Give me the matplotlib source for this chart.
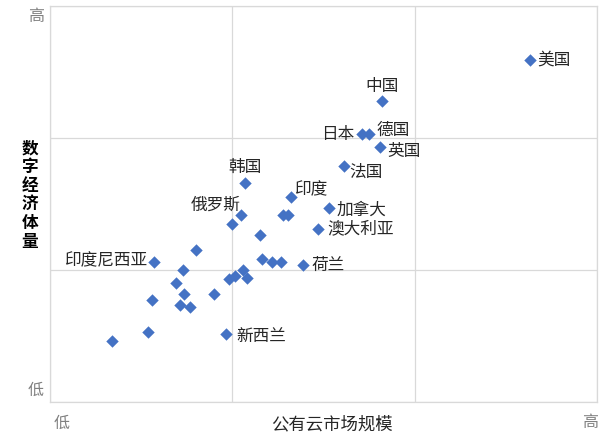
import numpy as np
import matplotlib.pyplot as plt

plt.rcParams['font.family'] = ['Noto Sans CJK SC', 'DejaVu Sans']

# named countries: x = public cloud market scale, y = digital economy size (0-3 scale)
names = ['美国', '中国', '日本', '德国', '英国', '法国', '韩国', '印度',
         '加拿大', '澳大利亚', '荷兰', '印度尼西亚', '新西兰', '俄罗斯']
name_x = [2.63, 1.82, 1.71, 1.75, 1.81, 1.61, 1.07, 1.32,
          1.53, 1.47, 1.39, 0.57, 0.965, 1.00]
name_y = [2.59, 2.28, 2.03, 2.03, 1.93, 1.79, 1.66, 1.555,
          1.47, 1.31, 1.04, 1.06, 0.515, 1.35]
# label offsets in pixels (dx, dy) and alignment
offs = [(8, 0, 'left'), (0, 15, 'center'), (-8, 0, 'right'), (7, 4, 'left'),
        (7, -4, 'left'), (6, -7, 'left'), (0, 15, 'center'), (4, 7, 'left'),
        (8, -2, 'left'), (9, 0, 'left'), (8, -1, 'left'), (-6, 1, 'right'),
        (10, -2, 'left'), (-17, 19, 'center')]

# unlabeled countries
other_x = [1.05, 1.28, 1.305, 1.15, 0.80, 1.16, 1.22, 1.265, 0.73, 1.06, 0.69,
           1.08, 1.015, 0.98, 0.735, 0.90, 0.56, 0.715, 0.77, 0.54, 0.34]
other_y = [1.42, 1.42, 1.42, 1.265, 1.15, 1.08, 1.06, 1.06, 1.00, 1.00, 0.905,
           0.94, 0.955, 0.93, 0.82, 0.82, 0.77, 0.735, 0.72, 0.53, 0.46]

W, H = 609, 443
fig = plt.figure(figsize=(W/100, H/100), dpi=100)
ax = fig.add_axes([50/W, 1-402/H, 547/W, 396/H])

blue = '#4472C4'
ax.scatter(other_x, other_y, marker='D', s=40, c=blue, lw=0, zorder=3)
ax.scatter(name_x, name_y, marker='D', s=40, c=blue, lw=0, zorder=3)

for n, x, y, (dx, dy, ha) in zip(names, name_x, name_y, offs):
    ax.annotate(n, (x, y), xytext=(dx, dy), textcoords='offset pixels',
                ha=ha, va='center', fontsize=12, color='#262626')

ax.set_xlim(0, 3)
ax.set_ylim(0, 3)
ax.set_xticks([0, 1, 2, 3])
ax.set_yticks([0, 1, 2, 3])
ax.tick_params(length=0, labelbottom=False, labelleft=False)
ax.grid(True, color='#d9d9d9', lw=0.9)
for s in ax.spines.values():
    s.set_color('#d9d9d9')
    s.set_linewidth(0.9)

def fx(p):
    return p/W

def fy(p):
    return 1-p/H

gray = '#808080'
fig.text(fx(36), fy(17), '高', ha='center', va='center', fontsize=11.5, color=gray)
fig.text(fx(36), fy(390), '低', ha='center', va='center', fontsize=11.5, color=gray)
fig.text(fx(62), fy(423), '低', ha='center', va='center', fontsize=11.5, color=gray)
fig.text(fx(590), fy(423), '高', ha='center', va='center', fontsize=11.5, color=gray)

fig.text(fx(332), fy(424), '公有云市场规模', ha='center', va='center',
         fontsize=12.5, color='#262626')
fig.text(fx(30), fy(195), '\n'.join('数字经济体量'), ha='center', va='center',
         fontsize=12, fontweight='bold', linespacing=1.05, color='#000000')

fig.savefig('out.png', dpi=100)
